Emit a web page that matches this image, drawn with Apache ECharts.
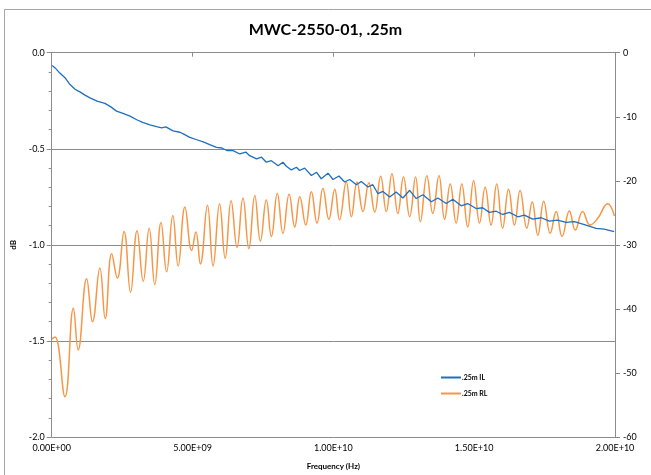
<!DOCTYPE html>
<html>
<head>
<meta charset="utf-8">
<script src="https://cdn.jsdelivr.net/npm/echarts@6/dist/echarts.min.js"></script>
<style>html,body{margin:0;padding:0;background:#fff;}#c{width:651px;height:475px;}</style>
</head>
<body>
<div id="c"></div>
<script>
const titleText = 'MWC-2550-01, .25m';
const xTickLabelsNote = ['0.00E+00','5.00E+09','1.00E+10','1.50E+10','2.00E+10'];
const seriesNames = ['.25m IL', '.25m RL'];

const ilFreqGHz = [0.02,0.12,0.29,0.47,0.65,0.83,1.00,1.18,1.36,1.61,1.89,2.10,2.30,2.53,2.78,3.02,3.25,3.49,3.72,3.91,4.05,4.31,4.55,4.69,4.90,5.15,5.38,5.61,5.85,6.04,6.22,6.44,6.68,6.89,7.03,
  7.27,7.45,7.62,7.80,8.04,8.21,8.33,8.51,8.69,8.80,8.98,9.22,9.40,9.57,9.81,9.99,10.20,10.40,10.58,10.82,10.99,11.23,11.40,11.58,11.76,12.00,12.23,12.47,12.71,12.94,13.18,13.48,13.71,14.01,14.24,14.54,14.77,
  15.07,15.30,15.54,15.78,16.01,16.25,16.55,16.78,17.08,17.38,17.67,17.96,18.26,18.56,18.97,19.33,19.62,19.97];
const ilDb = [-0.067,-0.079,-0.106,-0.130,-0.166,-0.190,-0.204,-0.221,-0.235,-0.252,-0.264,-0.282,-0.304,-0.316,-0.330,-0.349,-0.364,-0.375,-0.385,-0.391,-0.386,-0.407,-0.414,-0.424,-0.441,-0.453,-0.464,-0.478,-0.493,-0.496,-0.509,-0.510,-0.527,-0.517,-0.536,
  -0.553,-0.544,-0.570,-0.562,-0.588,-0.570,-0.591,-0.610,-0.596,-0.613,-0.601,-0.639,-0.622,-0.656,-0.627,-0.660,-0.642,-0.673,-0.660,-0.687,-0.670,-0.699,-0.687,-0.733,-0.722,-0.751,-0.725,-0.756,-0.716,-0.759,-0.739,-0.776,-0.756,-0.785,-0.763,-0.797,-0.785,
  -0.811,-0.807,-0.831,-0.825,-0.842,-0.831,-0.854,-0.845,-0.866,-0.859,-0.876,-0.871,-0.883,-0.879,-0.897,-0.914,-0.918,-0.931];

const rlFreqGHz = [0.00,0.12,0.47,0.77,0.94,1.24,1.45,1.71,1.90,2.13,2.33,2.57,2.80,3.03,3.25,3.46,3.66,3.88,4.08,4.30,4.49,4.73,4.97,5.12,5.28,5.53,5.73,5.96,6.16,6.37,6.58,6.79,7.00,7.21,7.41,7.62,7.80,8.01,8.21,8.43,8.63,8.81,9.02,9.22,9.42,9.63,9.84,10.05,10.22,10.46,10.64,10.84,11.05,11.26,11.47,11.68,11.88,12.08,12.29,12.49,12.71,12.92,13.09,13.32,13.53,13.75,13.95,14.15,14.36,14.56,14.77,14.98,15.19,15.39,15.60,15.80,16.01,16.22,16.43,16.63,16.87,17.06,17.26,17.47,17.70,17.91,18.12,18.38,18.59,18.85,19.12,19.38,19.74,19.98];
const rlDb = [-44.7,-44.4,-53.7,-39.9,-46.4,-35.3,-42.0,-33.6,-41.5,-31.4,-35.2,-27.9,-37.4,-27.8,-35.7,-27.4,-36.2,-26.5,-34.2,-25.4,-33.3,-24.1,-30.9,-28.0,-33.0,-23.8,-33.3,-23.6,-32.1,-23.1,-30.4,-22.7,-30.6,-22.3,-29.4,-23.0,-28.7,-22.0,-28.2,-22.1,-27.2,-22.5,-26.9,-21.7,-26.6,-21.2,-26.0,-21.3,-26.1,-20.2,-25.6,-20.2,-24.8,-20.3,-24.9,-19.3,-24.8,-18.9,-25.1,-19.4,-25.6,-19.4,-26.4,-19.2,-25.1,-19.2,-26.0,-20.5,-26.6,-20.5,-27.2,-20.0,-26.6,-21.0,-26.9,-20.5,-27.4,-21.3,-26.9,-21.5,-27.4,-23.3,-28.5,-23.2,-28.2,-24.8,-28.7,-24.7,-27.7,-24.8,-26.9,-25.9,-23.6,-25.5];

const ilData = ilFreqGHz.map((f, i) => [f * 1e9, ilDb[i]]);
const rlData = rlFreqGHz.map((f, i) => [f * 1e9, rlDb[i]]);

function sci(v) {
  if (v === 0) return '0.00E+00';
  const e = Math.floor(Math.log10(Math.abs(v)) + 1e-9);
  const m = v / Math.pow(10, e);
  return m.toFixed(2) + 'E' + (e < 0 ? '-' : '+') + String(Math.abs(e)).padStart(2, '0');
}

const FONT = 'Lato, "Liberation Sans", sans-serif';
const axisGray = '#8c8c8c';
const chart = echarts.init(document.getElementById('c'), null, { renderer: 'canvas' });
chart.setOption({
  animation: false,
  backgroundColor: '#fff',
  title: {
    text: titleText, left: 'center', top: 17,
    textStyle: { fontFamily: FONT, fontSize: 16, fontWeight: 'bold', color: '#000' }
  },
  graphic: [{
    type: 'rect', shape: { x: 4.5, y: 9.5, width: 700, height: 500 },
    style: { fill: 'none', stroke: '#a6a6a6', lineWidth: 1 }, silent: true, z: -1
  }],
  legend: {
    orient: 'vertical', left: 436, top: 369, itemGap: 9,
    itemWidth: 20, itemHeight: 2, icon: 'rect',
    textStyle: { fontFamily: FONT, fontSize: 7, fontWeight: 'bold', color: '#000', padding: [0,0,0,-4] },
    data: seriesNames
  },
  grid: { left: 51.7, right: 36, top: 52.7, bottom: 34.3, containLabel: false },
  xAxis: {
    type: 'value', min: 0, max: 2e10, interval: 5e9,
    name: 'Frequency (Hz)', nameLocation: 'middle', nameGap: 25,
    nameTextStyle: { fontFamily: FONT, fontSize: 8, fontWeight: 'bold', color: '#000' },
    axisLine: { show: true, lineStyle: { color: axisGray, width: 1 } },
    axisTick: { show: true, length: 4, inside: false, lineStyle: { color: axisGray } },
    axisLabel: { formatter: sci, fontFamily: FONT, fontSize: 9, color: '#000', margin: 7 },
    splitLine: { show: false }
  },
  yAxis: [{
    type: 'value', min: -2, max: 0, interval: 0.5, position: 'left',
    name: 'dB', nameLocation: 'middle', nameGap: 28, nameRotate: 90,
    nameTextStyle: { fontFamily: FONT, fontSize: 8, fontWeight: 'bold', color: '#000' },
    axisLine: { show: true, lineStyle: { color: axisGray, width: 1 } },
    axisTick: { show: true, length: 5, lineStyle: { color: axisGray } },
    minorTick: { show: true, splitNumber: 5, length: 3, lineStyle: { color: axisGray } },
    axisLabel: { formatter: v => v.toFixed(1), fontFamily: FONT, fontSize: 9, color: '#000', margin: 7 },
    splitLine: { show: true, lineStyle: { color: axisGray, width: 1 } }
  }, {
    type: 'value', min: -60, max: 0, interval: 10, position: 'right',
    axisLine: { show: true, lineStyle: { color: axisGray, width: 1 } },
    axisTick: { show: true, length: 5, lineStyle: { color: axisGray } },
    axisLabel: { fontFamily: FONT, fontSize: 9, color: '#000', margin: 8 },
    splitLine: { show: false }
  }],
  series: [{
    name: seriesNames[0], type: 'line', yAxisIndex: 0, data: ilData,
    showSymbol: false, smooth: false, color: '#1f6fc0',
    lineStyle: { width: 1.3, color: '#1f6fc0' }, z: 3
  }, {
    name: seriesNames[1], type: 'line', yAxisIndex: 1, data: rlData,
    showSymbol: false, smooth: 0.45, color: '#f79646',
    lineStyle: { width: 1.5, color: '#f79646' }, z: 2
  }]
});
</script>
</body>
</html>
